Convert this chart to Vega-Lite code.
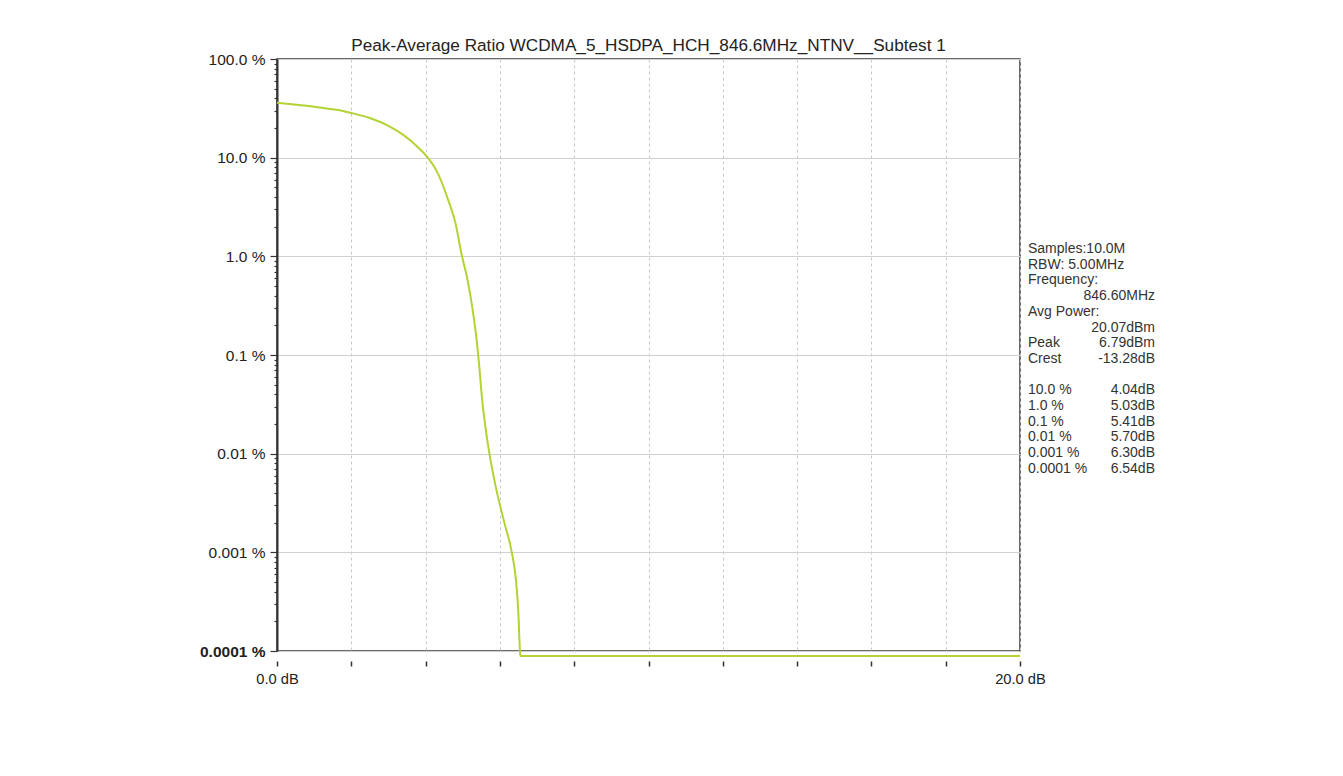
{
  "$schema": "https://vega.github.io/schema/vega-lite/v6.json",
  "background": "white",
  "padding": {"left": 198, "top": 36, "right": 5, "bottom": 5},
  "config": {"font": "Liberation Sans", "view": {"stroke": null}},
  "bounds": "flush",
  "spacing": 8,
  "hconcat": [
    {
      "width": 743,
      "height": 592,
      "title": {
        "text": "Peak-Average Ratio WCDMA_5_HSDPA_HCH_846.6MHz_NTNV__Subtest 1",
        "fontSize": 17.2,
        "fontWeight": "normal",
        "font": "Liberation Sans",
        "color": "#222222",
        "anchor": "middle",
        "offset": -2
      },
      "view": {"stroke": "#3a3a3a", "strokeWidth": 1.5},
      "data": {
        "values": [
          {"dB": 0.0, "pct": 36.0},
          {"dB": 0.4, "pct": 34.8},
          {"dB": 0.8, "pct": 33.5},
          {"dB": 1.2, "pct": 32.0},
          {"dB": 1.6, "pct": 30.6},
          {"dB": 2.0, "pct": 28.4},
          {"dB": 2.5, "pct": 25.2},
          {"dB": 3.0, "pct": 21.0},
          {"dB": 3.4, "pct": 17.0},
          {"dB": 3.8, "pct": 12.7},
          {"dB": 4.06, "pct": 10.0},
          {"dB": 4.3, "pct": 7.3},
          {"dB": 4.6, "pct": 3.8},
          {"dB": 4.8, "pct": 2.2},
          {"dB": 4.98, "pct": 1.0},
          {"dB": 5.12, "pct": 0.6},
          {"dB": 5.22, "pct": 0.37},
          {"dB": 5.36, "pct": 0.157},
          {"dB": 5.44, "pct": 0.08},
          {"dB": 5.52, "pct": 0.036},
          {"dB": 5.63, "pct": 0.0164},
          {"dB": 5.72, "pct": 0.0099},
          {"dB": 5.9, "pct": 0.0044},
          {"dB": 6.12, "pct": 0.002},
          {"dB": 6.32, "pct": 0.001},
          {"dB": 6.44, "pct": 0.00049},
          {"dB": 6.5, "pct": 0.00023},
          {"dB": 6.54, "pct": 0.0001},
          {"dB": 6.55, "pct": 0.000089},
          {"dB": 20.0, "pct": 0.000089}
        ]
      },
      "mark": {"type": "line", "color": "#b3d334", "strokeWidth": 2, "clip": false, "interpolate": "monotone"},
      "encoding": {
        "x": {
          "field": "dB",
          "type": "quantitative",
          "scale": {"domain": [0, 20], "nice": false},
          "axis": {
            "title": null,
            "values": [0, 2, 4, 6, 8, 10, 12, 14, 16, 18, 20],
            "labelExpr": "datum.value == 0 || datum.value == 20 ? format(datum.value, '.1f') + ' dB' : ''",
            "offset": 10,
            "domain": false,
            "tickSize": 5,
            "tickColor": "#333333",
            "tickWidth": 1.5,
            "grid": true,
            "gridColor": "#c8c8c8",
            "gridDash": [3, 3],
            "labelFontSize": 14.7,
            "labelColor": "#222222",
            "labelPadding": 5,
            "labelFlush": false,
            "labelBound": false,
            "labelOverlap": false
          }
        },
        "y": {
          "field": "pct",
          "type": "quantitative",
          "scale": {"type": "log", "domain": [0.0001, 100], "nice": false},
          "axis": {
            "title": null,
            "values": [0.0001, 0.0002, 0.0003, 0.0004, 0.0005, 0.0006, 0.0007, 0.0008, 0.0009,
                       0.001, 0.002, 0.003, 0.004, 0.005, 0.006, 0.007, 0.008, 0.009,
                       0.01, 0.02, 0.03, 0.04, 0.05, 0.06, 0.07, 0.08, 0.09,
                       0.1, 0.2, 0.3, 0.4, 0.5, 0.6, 0.7, 0.8, 0.9,
                       1, 2, 3, 4, 5, 6, 7, 8, 9,
                       10, 20, 30, 40, 50, 60, 70, 80, 90, 100],
            "labelExpr": "abs(log(datum.value)/LN10 - round(log(datum.value)/LN10)) < 0.001 ? (datum.value >= 1 ? format(datum.value, '.1f') : '' + datum.value) + ' %' : ''",
            "labelFontSize": 15.5,
            "labelColor": "#222222",
            "labelPadding": 5,
            "labelOverlap": false,
            "labelFlush": false,
            "labelBound": false,
            "labelFontWeight": {"condition": {"test": "datum.value < 0.00015", "value": "bold"}, "value": "normal"},
            "tickSize": {"condition": {"test": "abs(log(datum.value)/LN10 - round(log(datum.value)/LN10)) < 0.001", "value": 7}, "value": 3},
            "tickColor": "#333333",
            "tickWidth": 1.2,
            "grid": true,
            "gridColor": "#d0d0d0",
            "gridOpacity": {"condition": {"test": "abs(log(datum.value)/LN10 - round(log(datum.value)/LN10)) < 0.001", "value": 1}, "value": 0},
            "domainColor": "#333333",
            "domainWidth": 2
          }
        }
      }
    },
    {
      "width": 127,
      "height": 592,
      "view": {"stroke": null},
      "data": {
        "values": [
          {"line": 0, "col": "label", "txt": "Samples:10.0M"},
          {"line": 1, "col": "label", "txt": "RBW: 5.00MHz"},
          {"line": 2, "col": "label", "txt": "Frequency:"},
          {"line": 3, "col": "value", "txt": "846.60MHz"},
          {"line": 4, "col": "label", "txt": "Avg Power:"},
          {"line": 5, "col": "value", "txt": "20.07dBm"},
          {"line": 6, "col": "label", "txt": "Peak"},
          {"line": 6, "col": "value", "txt": "6.79dBm"},
          {"line": 7, "col": "label", "txt": "Crest"},
          {"line": 7, "col": "value", "txt": "-13.28dB"},
          {"line": 9, "col": "label", "txt": "10.0 %"},
          {"line": 9, "col": "value", "txt": "4.04dB"},
          {"line": 10, "col": "label", "txt": "1.0 %"},
          {"line": 10, "col": "value", "txt": "5.03dB"},
          {"line": 11, "col": "label", "txt": "0.1 %"},
          {"line": 11, "col": "value", "txt": "5.41dB"},
          {"line": 12, "col": "label", "txt": "0.01 %"},
          {"line": 12, "col": "value", "txt": "5.70dB"},
          {"line": 13, "col": "label", "txt": "0.001 %"},
          {"line": 13, "col": "value", "txt": "6.30dB"},
          {"line": 14, "col": "label", "txt": "0.0001 %"},
          {"line": 14, "col": "value", "txt": "6.54dB"}
        ]
      },
      "encoding": {
        "x": {"field": "col", "type": "nominal", "scale": {"type": "point", "domain": ["label", "value"], "padding": 0}, "axis": null},
        "y": {"field": "line", "type": "quantitative", "scale": {"domain": [-12.1, 25.6], "reverse": true, "nice": false, "zero": false}, "axis": null},
        "text": {"field": "txt"}
      },
      "layer": [
        {
          "transform": [{"filter": "datum.col == 'label'"}],
          "mark": {"type": "text", "align": "left", "baseline": "middle", "fontSize": 14, "color": "#333333", "font": "Liberation Sans"}
        },
        {
          "transform": [{"filter": "datum.col == 'value'"}],
          "mark": {"type": "text", "align": "right", "baseline": "middle", "fontSize": 14, "color": "#333333", "font": "Liberation Sans"}
        }
      ]
    }
  ]
}
